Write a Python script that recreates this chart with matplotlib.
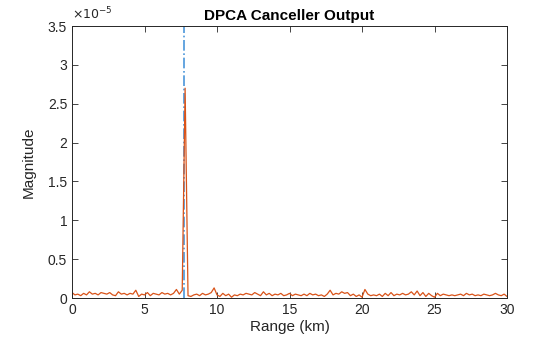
import numpy as np
import matplotlib
matplotlib.use('Agg')
import matplotlib.pyplot as plt
from matplotlib.ticker import FuncFormatter, MultipleLocator

# DPCA canceller output magnitude, sampled every 0.2 km (units of 1e-5)
magnitude_e5 = [
	0.07, 0.04, 0.05, 0.03, 0.06, 0.04, 0.08, 0.05, 0.06, 0.04,
	0.07, 0.06, 0.05, 0.07, 0.04, 0.03, 0.08, 0.05, 0.06, 0.04,
	0.06, 0.05, 0.10, 0.02, 0.05, 0.04, 0.07, 0.03, 0.06, 0.05,
	0.04, 0.07, 0.05, 0.06, 0.04, 0.06, 0.11, 0.05, 0.10, 2.70,
	0.03, 0.02, 0.04, 0.05, 0.03, 0.06, 0.04, 0.05, 0.07, 0.13,
	0.04, 0.02, 0.06, 0.03, 0.05, 0.01, 0.04, 0.03, 0.05, 0.04,
	0.06, 0.05, 0.04, 0.07, 0.05, 0.03, 0.08, 0.04, 0.06, 0.03,
	0.05, 0.04, 0.06, 0.03, 0.04, 0.06, 0.03, 0.05, 0.04, 0.03,
	0.05, 0.03, 0.06, 0.04, 0.05, 0.03, 0.04, 0.02, 0.05, 0.10,
	0.04, 0.06, 0.05, 0.08, 0.06, 0.07, 0.03, 0.05, 0.02, 0.04,
	0.01, 0.11, 0.05, 0.03, 0.04, 0.03, 0.05, 0.02, 0.06, 0.03,
	0.07, 0.03, 0.05, 0.04, 0.06, 0.04, 0.05, 0.08, 0.04, 0.09,
	0.03, 0.07, 0.02, 0.06, 0.03, 0.01, 0.06, 0.03, 0.05, 0.04,
	0.03, 0.04, 0.03, 0.04, 0.05, 0.03, 0.06, 0.04, 0.05, 0.03,
	0.04, 0.03, 0.05, 0.04, 0.03, 0.04, 0.06, 0.04, 0.03, 0.05,
	0.02,
]
range_max_km = 30
target_range_km = 7.75

magnitude = np.array(magnitude_e5) * 1e-5
range_km = np.linspace(0, range_max_km, len(magnitude))

plt.rcParams['font.family'] = ['Liberation Sans', 'DejaVu Sans']
sAxisColor = '#262626'

fig = plt.figure(figsize=(5.6, 3.37), dpi=100)
ax = fig.add_axes([0.1286, 0.1157, 0.7768, 0.8071])

ax.axvline(target_range_km, color='#4a96da', lw=1.2, linestyle='-.')
ax.plot(range_km, magnitude, color='#D95319', lw=0.9)

ax.set_xlim(0, 30)
ax.set_ylim(0, 3.5e-5)
ax.xaxis.set_major_locator(MultipleLocator(5))
ax.yaxis.set_major_locator(MultipleLocator(0.5e-5))
ax.yaxis.set_major_formatter(FuncFormatter(lambda v, p: f"{v / 1e-5:g}"))

ax.tick_params(direction='in', length=4, width=0.6, colors=sAxisColor,
	labelsize=10, top=True, right=True, labeltop=False, labelright=False)
for sp in ax.spines.values():
	sp.set_color(sAxisColor)
	sp.set_linewidth(0.7)

ax.set_xlabel('Range (km)', fontsize=11, color=sAxisColor, labelpad=2)
ax.set_ylabel('Magnitude', fontsize=11, color=sAxisColor, labelpad=9)
ax.set_title('DPCA Canceller Output', fontsize=11, fontweight='bold', color='black', pad=4)
ax.text(0.0, 1.012, r'$\times10^{-5}$', transform=ax.transAxes, fontsize=9,
	color=sAxisColor, ha='left', va='bottom')

fig.savefig('out.png', dpi=100)
